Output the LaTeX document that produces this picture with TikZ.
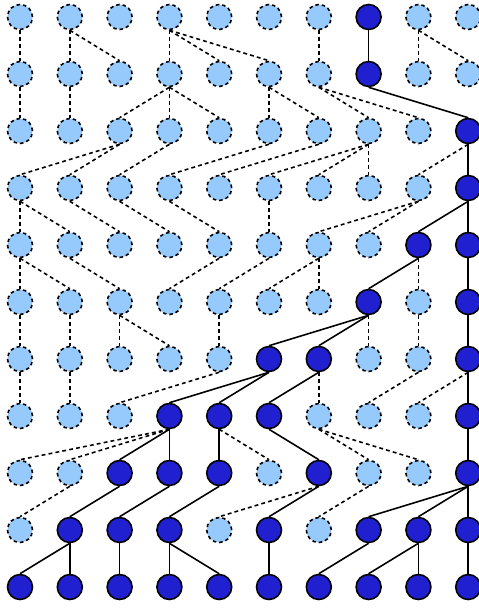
\documentclass[tikz,border=0pt]{standalone}
\usetikzlibrary{arrows.meta}
\definecolor{lightind}{RGB}{150,202,252}
\definecolor{darkind}{RGB}{32,32,208}

\begin{document}
\begin{tikzpicture}[x=0.02cm,y=-0.02cm,
  ind/.style={draw,circle,minimum size=5mm,inner sep=0pt,line width=0.9pt},
  state0/.style={ind,fill=lightind,dash pattern=on 2pt off 1.7pt},
  state1/.style={ind,fill=darkind},
  link0/.style={line width=0.9pt,dash pattern=on 2.2pt off 1.8pt},
  link1/.style={line width=0.9pt}
]
  \useasboundingbox (0,0) rectangle (479,608);

  % first generation
  \foreach \d [count=\c from 0] in {0,0,0,0,0,0,0,1,0,0}
    \node[state\d] (n-0-\c) at ({20+49.8*\c},17) {};

  % later generations: parent/ancestral
  \foreach \r/\gen in {
    1/{0/0,1/0,1/0,3/0,3/0,3/0,6/0,7/1,8/0,8/0},
    2/{0/0,1/0,3/0,3/0,3/0,5/0,5/0,6/0,6/0,7/1},
    3/{2/0,2/0,3/0,5/0,6/0,7/0,7/0,7/0,9/0,9/1},
    4/{0/0,0/0,1/0,2/0,3/0,5/0,8/0,8/0,9/1,9/1},
    5/{0/0,0/0,1/0,4/0,5/0,6/0,6/0,8/1,8/0,9/1},
    6/{0/0,1/0,2/0,2/0,4/0,7/1,7/1,7/0,8/0,9/1},
    7/{0/0,1/0,4/0,5/1,5/1,6/1,6/0,8/0,9/0,9/1},
    8/{3/0,3/0,3/1,3/1,4/1,4/0,5/1,6/0,6/0,9/1},
    9/{1/0,2/1,3/1,4/1,6/0,6/1,7/0,9/1,9/1,9/1},
    10/{1/1,1/1,2/1,3/1,3/1,5/1,7/1,8/1,8/1,9/1}}
    \foreach \p/\d [count=\c from 0] in \gen {
      \pgfmathtruncatemacro\q{\r-1}
      \node[state\d] (n-\r-\c) at ({20+49.8*\c},{17+57*\r}) {};
      \draw[link\d] (n-\q-\p.south) -- (n-\r-\c.north);
    }
\end{tikzpicture}
\end{document}
